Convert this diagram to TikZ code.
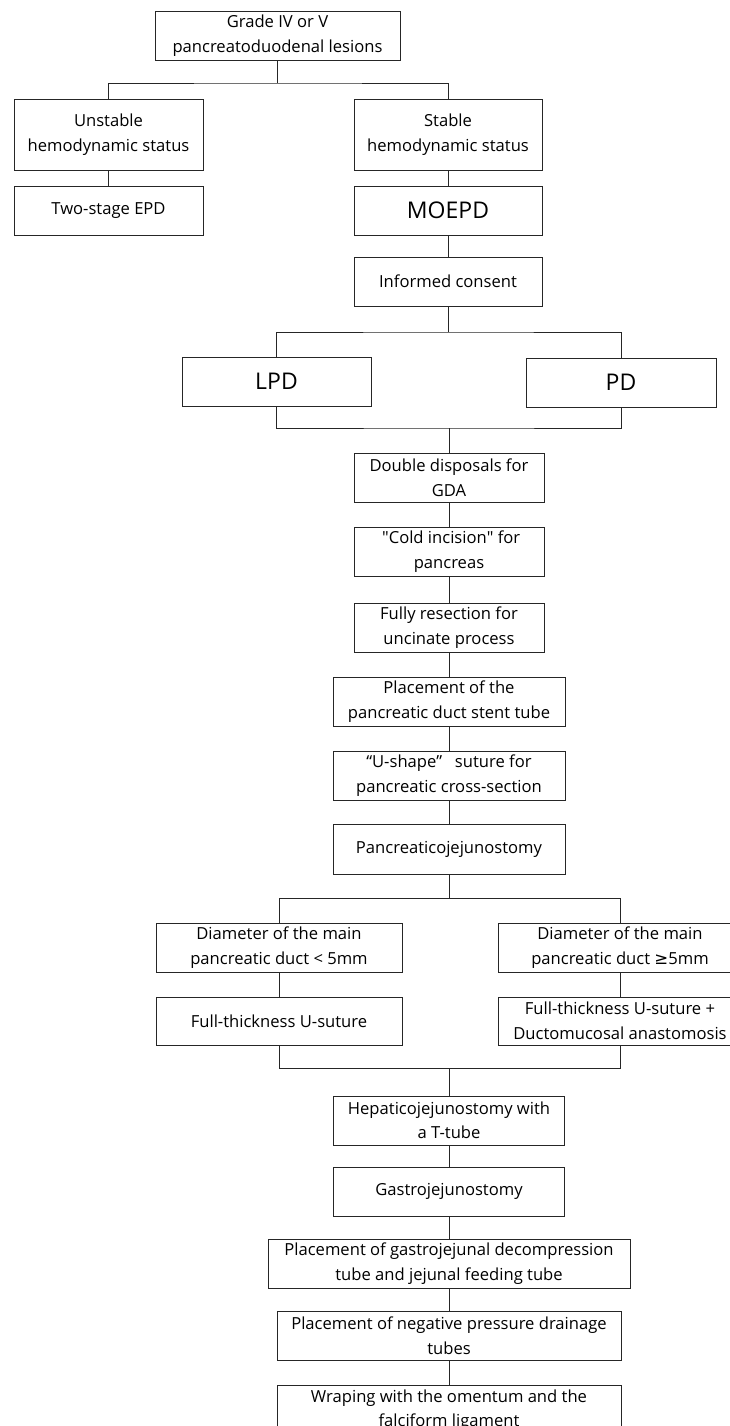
\documentclass[tikz,border=0pt]{standalone}
\usepackage{fontspec}
\setmainfont{Open Sans}
\newfontfamily\rawfont{Open Sans}
\newfontfamily\symfont{DejaVu Sans}
\begin{document}
\begin{tikzpicture}[x=1pt,y=-1pt,
  box/.style={draw=black!85,line width=0.9pt,align=center,inner sep=2pt,
    font=\fontsize{16.6}{24.5}\selectfont},
  big/.style={font=\fontsize{23}{28}\selectfont},
  conn/.style={draw=black!85,line width=0.9pt}]
\useasboundingbox (0,0) rectangle (730,1426);
\clip (0,0) rectangle (730,1426);
\node[box,minimum width=245,minimum height=49] (top) at (277.5,35.5) {Grade IV or V\\pancreatoduodenal lesions};
\node[box,minimum width=189,minimum height=71] (unstable) at (108.5,134.5) {Unstable\\hemodynamic status};
\node[box,minimum width=188,minimum height=71] (stable) at (448,134.5) {Stable\\hemodynamic status};
\node[box,minimum width=189,minimum height=49] (twostage) at (108.5,210.5) {Two-stage EPD};
\node[box,big,minimum width=188,minimum height=49] (moepd) at (448,210.5) {MOEPD};
\node[box,minimum width=188,minimum height=49] (consent) at (448,281.5) {Informed consent};
\node[box,big,minimum width=189,minimum height=49] (lpd) at (276.5,381.5) {LPD};
\node[box,big,minimum width=190,minimum height=49] (pd) at (621,382.5) {PD};
\node[box,minimum width=190,minimum height=49] (gda) at (449,477.5) {Double disposals for\\GDA};
\node[box,minimum width=190,minimum height=49] (cold) at (449,551.5) {\ {\rawfont "}Cold incision{\rawfont "} for\\pancreas};
\node[box,minimum width=190,minimum height=49] (uncinate) at (449,627.5) {Fully resection for\\uncinate process};
\node[box,minimum width=232,minimum height=49] (stent) at (449,701.5) {Placement of the\\pancreatic duct stent tube};
\node[box,minimum width=232,minimum height=49] (ushape) at (449,775.5) {“U-shape”\ \ \ suture for\\pancreatic cross-section};
\node[box,minimum width=232,minimum height=50] (pj) at (449,849) {Pancreaticojejunostomy};
\node[box,minimum width=246,minimum height=49] (diamL) at (279,947.5) {Diameter of the main\\pancreatic duct < 5mm};
\node[box,minimum width=244,minimum height=49] (diamR) at (620,947.5) {Diameter of the main\\pancreatic duct {\symfont ≥}5mm};
\node[box,minimum width=246,minimum height=48] (fullL) at (279,1021) {Full-thickness U-suture};
\node[box,minimum width=244,minimum height=48] (fullR) at (620,1021) {Full-thickness U-suture +\\Ductomucosal anastomosis};
\node[box,minimum width=231,minimum height=49] (hj) at (449,1120.5) {Hepaticojejunostomy with\\a T-tube};
\node[box,minimum width=231,minimum height=49] (gj) at (449,1191.5) {Gastrojejunostomy};
\node[box,minimum width=362,minimum height=49] (tubes) at (449,1263.5) {Placement of gastrojejunal decompression\\tube and jejunal feeding tube};
\node[box,minimum width=344,minimum height=49] (drain) at (449,1335.5) {Placement of negative pressure drainage\\tubes};
\node[box,minimum width=344,minimum height=49] (wrap) at (449,1410) {Wraping with the omentum and the\\falciform ligament};
\coordinate (j1) at (277.5,83);
\coordinate (j2) at (448,332);
\coordinate (j3) at (449,428);
\coordinate (j4) at (449,898);
\coordinate (j5) at (449,1068);
\draw[conn] (top.south) -- (j1);
\draw[conn] (unstable.north) |- (j1) -| (stable.north);
\draw[conn] (unstable.south) -- (twostage.north);
\draw[conn] (stable.south) -- (moepd.north);
\draw[conn] (moepd.south) -- (consent.north);
\draw[conn] (consent.south) -- (j2);
\draw[conn] (lpd.north) |- (j2) -| (pd.north);
\draw[conn] (lpd.south) |- (j3) -| (pd.south);
\draw[conn] (j3) -- (gda.north);
\draw[conn] (gda.south) -- (cold.north);
\draw[conn] (cold.south) -- (uncinate.north);
\draw[conn] (uncinate.south) -- (stent.north);
\draw[conn] (stent.south) -- (ushape.north);
\draw[conn] (ushape.south) -- (pj.north);
\draw[conn] (pj.south) -- (j4);
\draw[conn] (diamL.north) |- (j4) -| (diamR.north);
\draw[conn] (diamL.south) -- (fullL.north);
\draw[conn] (diamR.south) -- (fullR.north);
\draw[conn] (fullL.south) |- (j5) -| (fullR.south);
\draw[conn] (j5) -- (hj.north);
\draw[conn] (hj.south) -- (gj.north);
\draw[conn] (gj.south) -- (tubes.north);
\draw[conn] (tubes.south) -- (drain.north);
\draw[conn] (drain.south) -- (wrap.north);
\end{tikzpicture}
\end{document}
